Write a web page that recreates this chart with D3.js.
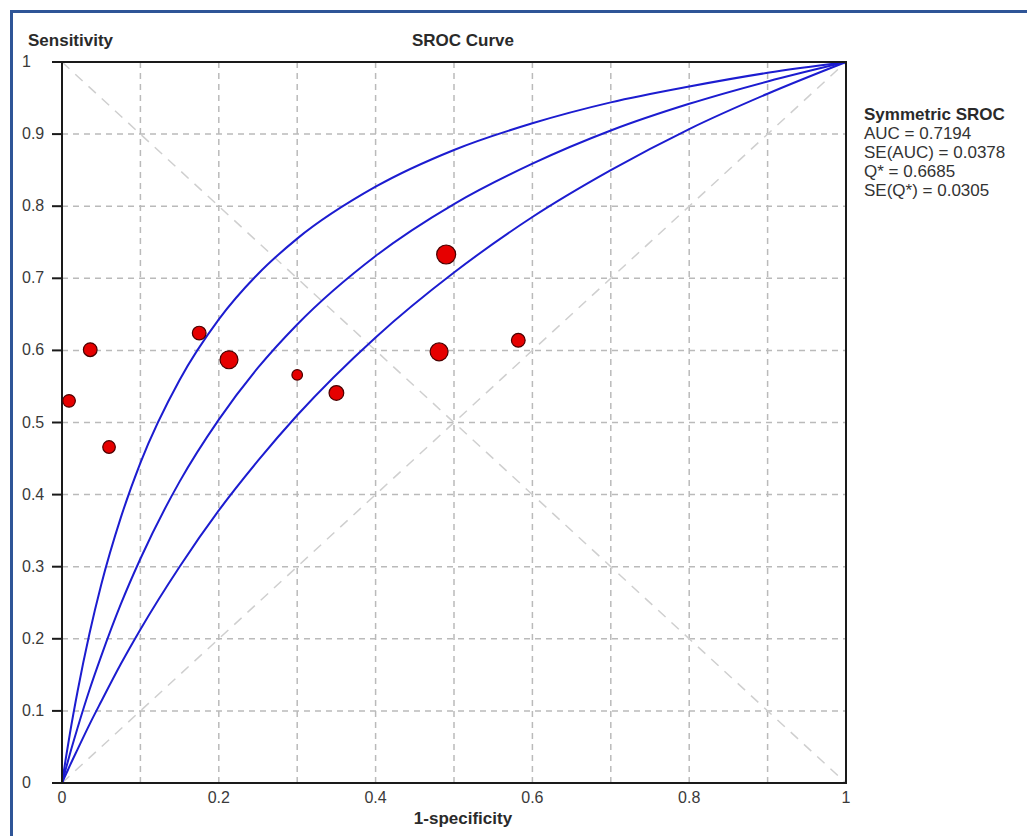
<!DOCTYPE html>
<html>
<head>
<meta charset="utf-8">
<title>SROC Curve</title>
<script src="https://cdn.jsdelivr.net/npm/d3@7"></script>
<style>
    html, body { margin: 0; padding: 0; background: #fff; }
    svg { display: block; }
    .tick-label { font-family: "Liberation Sans", Arial, sans-serif; font-size: 16px; fill: #3a3a3a; }
    .title { font-family: "Liberation Sans", Arial, sans-serif; font-size: 17px; font-weight: bold; fill: #2a2a2a; }
    .legend { font-family: "Liberation Sans", Arial, sans-serif; font-size: 17px; fill: #333; }
</style>
</head>
<body>
<svg width="1027" height="836"></svg>
<script>
'use strict';

// values
var xTicks = [0, 0.2, 0.4, 0.6, 0.8, 1];
var yTicks = [0, 0.1, 0.2, 0.3, 0.4, 0.5, 0.6, 0.7, 0.8, 0.9, 1];
var gridSteps = [0.1, 0.2, 0.3, 0.4, 0.5, 0.6, 0.7, 0.8, 0.9];

var curveFpr   = [0, 0.005, 0.01, 0.02, 0.035, 0.05, 0.075, 0.1, 0.15, 0.2, 0.25, 0.3, 0.4, 0.5, 0.6, 0.7, 0.8, 0.9, 1];
var upperSens  = [0, 0.035, 0.068, 0.128, 0.207, 0.275, 0.368, 0.444, 0.559, 0.643, 0.706, 0.755, 0.827, 0.878, 0.915, 0.944, 0.966, 0.985, 1];
var middleSens = [0, 0.020, 0.040, 0.077, 0.129, 0.176, 0.248, 0.311, 0.418, 0.504, 0.576, 0.636, 0.731, 0.803, 0.859, 0.905, 0.942, 0.973, 1];
var lowerSens  = [0, 0.012, 0.024, 0.047, 0.081, 0.113, 0.165, 0.213, 0.300, 0.378, 0.447, 0.510, 0.618, 0.708, 0.785, 0.850, 0.907, 0.956, 1];

var studyFpr    = [0.009, 0.036, 0.060, 0.175, 0.213, 0.300, 0.350, 0.490, 0.481, 0.582];
var studySens   = [0.530, 0.601, 0.466, 0.624, 0.587, 0.566, 0.541, 0.733, 0.598, 0.614];
var studyWeight = [44, 52, 44, 52, 89, 31, 60, 100, 89, 52];

var legendLines = ['AUC = 0.7194', 'SE(AUC) = 0.0378', 'Q* = 0.6685', 'SE(Q*) = 0.0305'];

(function() {

    var margin = {
        top: 62,
        left: 62
    };
    var plotWidth = 784;
    var plotHeight = 721;

    var svg = d3.select('svg');

    // blue frame on top and left edge
    svg.append('rect')
        .attr('x', 10)
        .attr('y', 10)
        .attr('width', 1017)
        .attr('height', 3)
        .style('fill', '#2f5597')
    ;
    svg.append('rect')
        .attr('x', 10)
        .attr('y', 10)
        .attr('width', 3)
        .attr('height', 826)
        .style('fill', '#2f5597')
    ;

    var x = d3.scaleLinear()
        .domain([0, 1])
        .range([0, plotWidth]);

    var y = d3.scaleLinear()
        .domain([0, 1])
        .range([plotHeight, 0]);

    var r = d3.scaleSqrt()
        .domain([0, d3.max(studyWeight)])
        .range([0, 9.5]);

    var g = svg.append('g')
        .attr('transform', 'translate(' + margin.left + ',' + margin.top + ')')
    ;

    // dashed grid
    g.selectAll('.grid-v')
        .data(gridSteps)
        .enter().append('line')
        .attr('class', 'grid-v')
        .attr('x1', function(d) { return x(d); })
        .attr('x2', function(d) { return x(d); })
        .attr('y1', y(0))
        .attr('y2', y(1))
        .style('stroke', '#bababa')
        .style('stroke-width', 1.5)
        .style('stroke-dasharray', '6,5')
    ;

    g.selectAll('.grid-h')
        .data(gridSteps)
        .enter().append('line')
        .attr('class', 'grid-h')
        .attr('x1', x(0))
        .attr('x2', x(1))
        .attr('y1', function(d) { return y(d); })
        .attr('y2', function(d) { return y(d); })
        .style('stroke', '#bababa')
        .style('stroke-width', 1.5)
        .style('stroke-dasharray', '6,5')
    ;

    // both diagonals
    var diagonals = [[[0, 0], [1, 1]], [[0, 1], [1, 0]]];
    g.selectAll('.diag')
        .data(diagonals)
        .enter().append('line')
        .attr('class', 'diag')
        .attr('x1', function(d) { return x(d[0][0]); })
        .attr('y1', function(d) { return y(d[0][1]); })
        .attr('x2', function(d) { return x(d[1][0]); })
        .attr('y2', function(d) { return y(d[1][1]); })
        .style('stroke', '#cfcfcf')
        .style('stroke-width', 1.5)
        .style('stroke-dasharray', '10,8')
    ;

    // SROC curve and its bounds
    var line = d3.line().curve(d3.curveMonotoneX)
        .x(function(d) { return x(d.fpr); })
        .y(function(d) { return y(d.sens); });

    [upperSens, middleSens, lowerSens].forEach(function(sens){
        var serie = curveFpr.map(function(fpr, i){
            return { fpr: fpr, sens: sens[i] };
        });
        g.append('path')
            .attr('class', 'sroc')
            .attr('d', line(serie))
            .style('fill', 'none')
            .style('stroke', '#1c1cd0')
            .style('stroke-width', 2)
        ;
    });

    // frame of the plot
    g.append('rect')
        .attr('x', 0)
        .attr('y', 0)
        .attr('width', plotWidth)
        .attr('height', plotHeight)
        .style('fill', 'none')
        .style('stroke', '#1a1a1a')
        .style('stroke-width', 2)
    ;

    // y ticks stick out to the left
    g.selectAll('.ytick')
        .data(yTicks)
        .enter().append('line')
        .attr('class', 'ytick')
        .attr('x1', -10)
        .attr('x2', 0)
        .attr('y1', function(d) { return y(d); })
        .attr('y2', function(d) { return y(d); })
        .style('stroke', '#1a1a1a')
        .style('stroke-width', 2)
    ;

    g.selectAll('.ylabel')
        .data(yTicks)
        .enter().append('text')
        .attr('class', 'tick-label')
        .attr('x', 22 - margin.left)
        .attr('y', function(d) { return y(d) + 5; })
        .text(function(d) { return d; })
    ;

    g.selectAll('.xlabel')
        .data(xTicks)
        .enter().append('text')
        .attr('class', 'tick-label')
        .attr('text-anchor', 'middle')
        .attr('x', function(d) { return x(d); })
        .attr('y', plotHeight + 20)
        .text(function(d) { return d; })
    ;

    // study points
    studyFpr.forEach(function(fpr, i){
        g.append('circle')
            .attr('cx', x(fpr))
            .attr('cy', y(studySens[i]))
            .attr('r', r(studyWeight[i]))
            .style('fill', '#e60000')
            .style('stroke', '#4a0000')
            .style('stroke-width', 1.2)
        ;
    });

    // titles
    svg.append('text')
        .attr('class', 'title')
        .attr('x', 28)
        .attr('y', 46)
        .text('Sensitivity')
    ;
    svg.append('text')
        .attr('class', 'title')
        .attr('text-anchor', 'middle')
        .attr('x', 463)
        .attr('y', 46)
        .text('SROC Curve')
    ;
    svg.append('text')
        .attr('class', 'title')
        .attr('text-anchor', 'middle')
        .attr('x', 463)
        .attr('y', 824)
        .text('1-specificity')
    ;

    // legend
    var legend = svg.append('g')
        .attr('transform', 'translate(' + 864 + ',' + 120 + ')')
    ;
    legend.append('text')
        .attr('class', 'legend')
        .style('font-weight', 'bold')
        .style('fill', '#2a2a2a')
        .attr('y', 0)
        .text('Symmetric SROC')
    ;
    legend.selectAll('.legend-line')
        .data(legendLines)
        .enter().append('text')
        .attr('class', 'legend')
        .attr('y', function(d, i) { return (i + 1) * 19; })
        .text(function(d) { return d; })
    ;

})();
</script>
</body>
</html>
